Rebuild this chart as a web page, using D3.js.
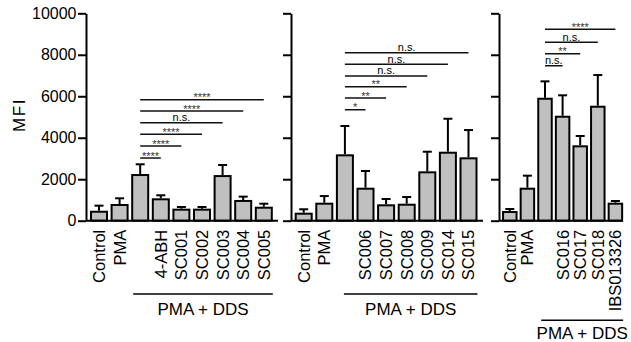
<!DOCTYPE html>
<html>
<head>
<meta charset="utf-8">
<script src="https://cdn.jsdelivr.net/npm/d3@7"></script>
<style>
  html, body { margin: 0; padding: 0; background: #fff; }
  svg { display: block; font-family: "Liberation Sans", Arial, sans-serif; }
</style>
</head>
<body>
<svg id="chart" width="631" height="342"></svg>
<script>
// ---- data ----
var yTicks = [0, 2000, 4000, 6000, 8000, 10000];

var p1Labels = ["Control", "PMA", "", "4-ABH", "SC001", "SC002", "SC003", "SC004", "SC005"];
var p1Means  = [480, 805, 2250, 1080, 580, 580, 2200, 1000, 675];
var p1Sem    = [245, 275, 470, 145, 80, 80, 485, 160, 145];
var p1SigTo   = [3, 4, 5, 6, 7, 8];
var p1SigY    = [3022, 3600, 4164, 4724, 5288, 5832];
var p1SigText = ["****", "****", "****", "n.s.", "****", "****"];

var p2Labels = ["Control", "PMA", "", "SC006", "SC007", "SC008", "SC009", "SC014", "SC015"];
var p2Means  = [386, 868, 3200, 1591, 790, 819, 2381, 3326, 3056];
var p2Sem    = [165, 320, 1365, 805, 255, 325, 945, 1590, 1315];
var p2SigTo   = [3, 4, 5, 6, 7, 8];
var p2SigY    = [5350, 5914, 6459, 6975, 7538, 8098];
var p2SigText = ["*", "**", "**", "n.s.", "n.s.", "n.s."];

var p3Labels = ["Control", "PMA", "", "SC016", "SC017", "SC018", "IBS013326"];
var p3Means  = [468, 1591, 5929, 5061, 3634, 5543, 868];
var p3Sem    = [95, 580, 790, 985, 450, 1480, 82];
var p3SigTo   = [3, 4, 5, 6];
var p3SigY    = [7471, 8049, 8599, 9226];
var p3SigText = ["n.s.", "**", "n.s.", "****"];

var groupText = "PMA + DDS";
var refIndex = 2;   // comparisons are drawn from the third bar

// ---- layout ----
var panels = [
  { labels: p1Labels, means: p1Means, sem: p1Sem, sigTo: p1SigTo, sigY: p1SigY, sigText: p1SigText,
    axisX: 86, range: [88.7, 274.1], pad: 0.126, axisEnd: 278, tickLabels: true,
    groupStart: 2, groupY: 294, groupTextY: 315 },
  { labels: p2Labels, means: p2Means, sem: p2Sem, sigTo: p2SigTo, sigY: p2SigY, sigText: p2SigText,
    axisX: 291, range: [293.4, 478.8], pad: 0.126, axisEnd: 483, tickLabels: false,
    groupStart: 8, groupY: 294, groupTextY: 315 },
  { labels: p3Labels, means: p3Means, sem: p3Sem, sigTo: p3SigTo, sigY: p3SigY, sigText: p3SigText,
    axisX: 499, range: [501, 624.2], pad: 0.12, axisEnd: 623, tickLabels: false,
    groupStart: 4, groupY: 320.3, groupTextY: 338.5 }
];

var svg = d3.select("#chart");

var y = d3.scaleLinear()
  .domain([0, 10000])
  .range([220.7, 13.3]);

panels.forEach(function(p) {
  var g = svg.append("g");
  var idx = d3.range(p.means.length);

  var x = d3.scaleBand()
    .domain(idx)
    .range(p.range)
    .paddingInner(p.pad)
    .paddingOuter(p.pad / 2);
  var bw = x.bandwidth();

  // error bars (upper only)
  g.selectAll(".err")
    .data(idx)
    .enter().append("line")
    .attr("x1", i => x(i) + bw / 2)
    .attr("x2", i => x(i) + bw / 2)
    .attr("y1", i => y(p.means[i]))
    .attr("y2", i => y(p.means[i] + p.sem[i]))
    .attr("stroke", "#000")
    .attr("stroke-width", 2);

  g.selectAll(".cap")
    .data(idx)
    .enter().append("line")
    .attr("x1", i => x(i) + bw / 2 - 4.5)
    .attr("x2", i => x(i) + bw / 2 + 4.5)
    .attr("y1", i => y(p.means[i] + p.sem[i]))
    .attr("y2", i => y(p.means[i] + p.sem[i]))
    .attr("stroke", "#000")
    .attr("stroke-width", 2);

  // bars
  g.selectAll(".bar")
    .data(idx)
    .enter().append("rect")
    .attr("x", i => x(i) + 1)
    .attr("width", bw - 2)
    .attr("y", i => y(p.means[i]) + 1)
    .attr("height", i => y(0) - y(p.means[i]) - 1)
    .attr("fill", "#c0c0c0")
    .attr("stroke", "#000")
    .attr("stroke-width", 2);

  // y axis
  var yAxis = d3.axisLeft(y)
    .tickValues(yTicks)
    .tickSize(8)
    .tickSizeOuter(0)
    .tickPadding(1.5)
    .tickFormat(p.tickLabels ? d3.format("d") : "");

  var ya = g.append("g")
    .attr("transform", "translate(" + p.axisX + ",0)")
    .call(yAxis);
  ya.select(".domain").attr("stroke-width", 2);
  ya.selectAll(".tick line").attr("stroke-width", 2);
  ya.selectAll(".tick text")
    .attr("font-size", "16px")
    .attr("font-family", "Liberation Sans, Arial, sans-serif")
    .attr("fill", "#000");

  // x baseline
  g.append("line")
    .attr("x1", p.axisX)
    .attr("x2", p.axisEnd)
    .attr("y1", y(0))
    .attr("y2", y(0))
    .attr("stroke", "#000")
    .attr("stroke-width", 2);

  // x labels
  var xa = g.append("g")
    .attr("transform", "translate(0," + y(0) + ")")
    .call(d3.axisBottom(x).tickSize(0).tickFormat(i => p.labels[i]));
  xa.select(".domain").remove();
  xa.selectAll(".tick text")
    .attr("transform", "rotate(-90)")
    .attr("x", -9)
    .attr("y", 0)
    .attr("dy", "0.36em")
    .style("text-anchor", "end")
    .attr("font-size", "16.5px")
    .attr("font-family", "Liberation Sans, Arial, sans-serif")
    .attr("fill", "#000");

  // significance brackets
  var refX = x(refIndex) + bw / 2;
  p.sigTo.forEach(function(t, k) {
    var tx = x(t) + bw / 2;
    var yy = y(p.sigY[k]);
    g.append("line")
      .attr("x1", refX).attr("x2", tx)
      .attr("y1", yy).attr("y2", yy)
      .attr("stroke", "#111")
      .attr("stroke-width", 1.5);
    var isStar = p.sigText[k] !== "n.s.";
    g.append("text")
      .attr("x", (refX + tx) / 2)
      .attr("y", isStar ? yy + 1.5 : yy - 1.8)
      .attr("text-anchor", "middle")
      .attr("font-size", "11px")
      .attr("fill", isStar ? "#333" : "#000")
      .text(p.sigText[k]);
  });

  // group line + label
  var gx1 = x(refIndex) + p.groupStart;
  var gx2 = x(p.means.length - 1) + bw;
  g.append("line")
    .attr("x1", gx1).attr("x2", gx2)
    .attr("y1", p.groupY).attr("y2", p.groupY)
    .attr("stroke", "#000")
    .attr("stroke-width", 1.5);
  g.append("text")
    .attr("x", (gx1 + gx2) / 2)
    .attr("y", p.groupTextY)
    .attr("text-anchor", "middle")
    .attr("font-size", "17px")
    .text(groupText);
});

// y axis title
svg.append("text")
  .attr("transform", "translate(25,115) rotate(-90)")
  .attr("text-anchor", "middle")
  .attr("font-size", "17px")
  .attr("letter-spacing", "1.5px")
  .text("MFI");
</script>
</body>
</html>
